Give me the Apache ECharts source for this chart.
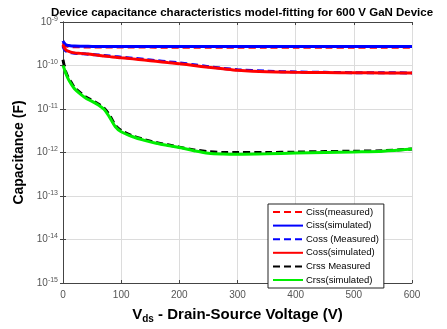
<!DOCTYPE html>
<html><head><meta charset="utf-8">
<script src="https://cdn.jsdelivr.net/npm/echarts@6/dist/echarts.min.js"></script>
<style>html,body{margin:0;padding:0;background:#fff}#c{width:447px;height:329px}</style>
</head><body><div id="c"></div>
<script>
var voltage = [0,2,5,10,15,20,30,40,50,60,70,80,90,100,120,140,160,180,200,225,250,275,300,350,400,450,500,550,600];
var cissMeasured = [3.3e-10,3.0e-10,2.85e-10,2.75e-10,2.72e-10,2.7e-10,2.68e-10,2.67e-10,2.66e-10,2.66e-10,2.66e-10,2.65e-10,2.65e-10,2.65e-10,2.65e-10,2.65e-10,2.64e-10,2.64e-10,2.64e-10,2.64e-10,2.64e-10,2.64e-10,2.64e-10,2.64e-10,2.64e-10,2.64e-10,2.64e-10,2.64e-10,2.64e-10];
var cissSimulated = [3.7e-10,3.3e-10,3.0e-10,2.88e-10,2.82e-10,2.79e-10,2.77e-10,2.76e-10,2.75e-10,2.75e-10,2.74e-10,2.74e-10,2.74e-10,2.74e-10,2.73e-10,2.73e-10,2.73e-10,2.73e-10,2.73e-10,2.72e-10,2.72e-10,2.72e-10,2.72e-10,2.72e-10,2.72e-10,2.72e-10,2.72e-10,2.72e-10,2.72e-10];
var cossMeasured = [2.8e-10,2.4e-10,2.15e-10,2.0e-10,1.95e-10,1.92e-10,1.88e-10,1.84e-10,1.8e-10,1.75e-10,1.7e-10,1.65e-10,1.6e-10,1.55e-10,1.47e-10,1.38e-10,1.3e-10,1.22e-10,1.15e-10,1.04e-10,9.4e-11,8.6e-11,8.0e-11,7.4e-11,7.1e-11,6.95e-11,6.85e-11,6.8e-11,6.75e-11];
var cossSimulated = [3.0e-10,2.6e-10,2.3e-10,2.1e-10,2.0e-10,1.95e-10,1.9e-10,1.85e-10,1.8e-10,1.72e-10,1.66e-10,1.6e-10,1.55e-10,1.5e-10,1.42e-10,1.33e-10,1.25e-10,1.17e-10,1.1e-10,1.0e-10,9.1e-11,8.4e-11,7.8e-11,7.2e-11,7.0e-11,6.9e-11,6.8e-11,6.75e-11,6.7e-11];
var crssMeasured = [1.35e-10,1.0e-10,7e-11,5e-11,3.9e-11,3.1e-11,2.35e-11,1.85e-11,1.58e-11,1.32e-11,1.07e-11,7.2e-12,4.2e-12,3.2e-12,2.4e-12,1.98e-12,1.7e-12,1.5e-12,1.33e-12,1.15e-12,1.05e-12,1.0e-12,1.0e-12,1.0e-12,1.02e-12,1.05e-12,1.07e-12,1.1e-12,1.2e-12];
var crssSimulated = [1.0e-10,8.5e-11,6.5e-11,4.6e-11,3.6e-11,2.9e-11,2.2e-11,1.75e-11,1.5e-11,1.25e-11,1.0e-11,6.5e-12,3.9e-12,3.0e-12,2.3e-12,1.9e-12,1.63e-12,1.45e-12,1.3e-12,1.1e-12,9.6e-13,9.2e-13,9.1e-13,9.3e-13,9.7e-13,1.0e-12,1.03e-12,1.07e-12,1.2e-12];
var seriesNames = ['Ciss(measured)','Ciss(simulated)','Coss (Measured)','Coss(simulated)','Crss Measured','Crss(simulated)'];
var xTicks = [0,100,200,300,400,500,600];
var yExponents = [-15,-14,-13,-12,-11,-10,-9];

function pairs(ys){ return voltage.map(function(v,i){ return [v, ys[i]]; }); }
var minors = [];
for (var e = -15; e < -9; e++) for (var m = 2; m <= 9; m++) minors.push({yAxis: m * Math.pow(10, e)});

function mk(name, ys, color, dashed) {
  return { name: name, type: 'line', data: pairs(ys), showSymbol: false, symbol: 'none',
    smooth: 0.3, lineStyle: { color: color, width: 3, type: dashed ? [7,4] : 'solid' },
    itemStyle: { color: color }, z: 3 };
}
var FF = 'Liberation Sans, Arial, Helvetica';
var ylabel = function(v){ var e = Math.round(Math.log10(v)); return '{b|10}{s|' + e + '}'; };
var chart = echarts.init(document.getElementById('c'), null, {renderer:'canvas'});
chart.setOption({
  animation: false,
  backgroundColor: '#fff',
  title: { text: 'Device capacitance characteristics model-fitting for 600 V GaN Device', left: 237, textAlign: 'center', top: 2,
    textStyle: { fontSize: 11.5, fontWeight: 'bold', color: '#000', fontFamily: FF } },
  grid: { left: 63, right: 35, top: 22, bottom: 40 },
  legend: { orient: 'vertical', left: 268, top: 204, backgroundColor: '#fff', borderColor: '#222', borderWidth: 1,
    padding: [3, 5, 3, 4], itemGap: 3.6, itemWidth: 30, itemHeight: 9.5, data: seriesNames,
    itemStyle: { color: 'transparent', borderWidth: 0, opacity: 0 },
    textStyle: { fontSize: 9.5, color: '#000', fontFamily: FF, padding: [0,0,0,-2] } },
  xAxis: [{ type: 'value', min: 0, max: 600, interval: 100,
      name: '{v|V}{d|ds}{t| - Drain-Source Voltage (V)}', nameLocation: 'middle', nameGap: 22,
      nameTextStyle: { rich: { v: {fontSize: 15, fontWeight: 'bold', color: '#000', fontFamily: FF},
        d: {fontSize: 10, fontWeight: 'bold', color: '#000', padding: [9,0,0,0], fontFamily: FF},
        t: {fontSize: 15, fontWeight: 'bold', color: '#000', fontFamily: FF} } },
      axisLine: { lineStyle: { color: '#444' } }, axisTick: { inside: true, length: 3, lineStyle: {color:'#444'} },
      axisLabel: { fontSize: 10, color: '#555', margin: 7, fontFamily: FF },
      splitLine: { show: true, lineStyle: { color: '#dcdcdc', width: 1 } } },
    { type: 'value', position: 'top', min: 0, max: 600, interval: 100,
      axisLine: { lineStyle: { color: '#444' } }, axisTick: { inside: true, length: 3, lineStyle: {color:'#444'} },
      axisLabel: { show: false }, splitLine: { show: false } }],
  yAxis: [{ type: 'log', logBase: 10, min: 1e-15, max: 1e-9, interval: 1,
      name: 'Capacitance (F)', nameLocation: 'middle', nameGap: 34,
      nameTextStyle: { fontSize: 14, fontWeight: 'bold', color: '#000', fontFamily: FF },
      axisLine: { show: true, lineStyle: { color: '#444' } }, axisTick: { show: true, inside: true, length: 3, lineStyle: {color:'#444'} },
      axisLabel: { formatter: ylabel, margin: 5, rich: { b: {fontSize: 10, color: '#555', fontFamily: FF},
        s: {fontSize: 7, color: '#555', padding: [0,0,6,0], fontFamily: FF} } },
      splitLine: { show: true, lineStyle: { color: '#dcdcdc', width: 1 } } },
    { type: 'log', logBase: 10, min: 1e-15, max: 1e-9, interval: 1, position: 'right',
      axisLine: { show: true, lineStyle: { color: '#444' } }, axisTick: { show: true, inside: true, length: 3, lineStyle: {color:'#444'} },
      axisLabel: { show: false }, splitLine: { show: false } }],
  series: [
    { name: 'minor', type: 'line', data: [], z: 1, silent: true,
      markLine: { silent: true, symbol: 'none', label: { show: false }, animation: false,
        lineStyle: { color: '#cfcfcf', type: [2,2], width: 1 }, data: minors } },
    mk(seriesNames[0], cissMeasured, '#ff0000', true),
    mk(seriesNames[1], cissSimulated, '#0000ff', false),
    mk(seriesNames[2], cossMeasured, '#0000ff', true),
    mk(seriesNames[3], cossSimulated, '#ff0000', false),
    mk(seriesNames[4], crssMeasured, '#000000', true),
    mk(seriesNames[5], crssSimulated, '#00ee00', false)
  ]
});
</script></body></html>
